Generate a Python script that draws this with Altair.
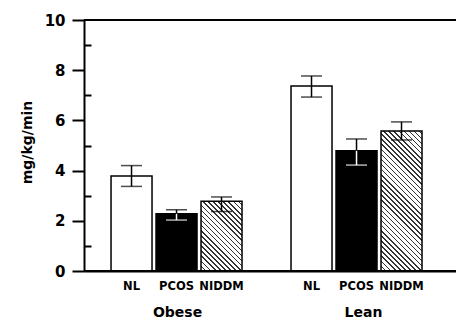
import math
import altair as alt
import pandas as pd

# ---- data ----
groups = ["Obese", "Obese", "Obese", "Lean", "Lean", "Lean"]
subgroups = ["NL", "PCOS", "NIDDM", "NL", "PCOS", "NIDDM"]
means = [3.78, 2.28, 2.78, 7.37, 4.79, 5.58]
err_low = [3.37, 2.03, 2.37, 6.93, 4.22, 5.22]
err_high = [4.20, 2.44, 2.95, 7.77, 5.26, 5.94]
group_order = ["Obese", "Lean"]
sub_order = ["NL", "PCOS", "NIDDM"]
y_major = [0, 2, 4, 6, 8, 10]
y_minor = [1, 3, 5, 7, 9]
y_title = "mg/kg/min"

df = pd.DataFrame({
    "group": groups,
    "sub": subgroups,
    "mean": means,
    "low": err_low,
    "high": err_high,
})
df["key"] = df["group"] + "|" + df["sub"]
key_domain = [f"Obese|{s}" for s in sub_order] + [" "] + [f"Lean|{s}" for s in sub_order]

W, H = 372, 251
FONT = "DejaVu Sans"
P_IN, P_OUT, ALIGN = 0.089, 0.678, 0.443

x_scale = alt.Scale(domain=key_domain, paddingInner=P_IN, paddingOuter=P_OUT, align=ALIGN)
y_scale = alt.Scale(domain=[0, 10], nice=False)

x_axis = alt.Axis(
    title=None, labelAngle=0, ticks=False, domain=True, domainColor="black",
    domainWidth=2, labelPadding=9, labelFont=FONT, labelFontSize=11.5,
    labelFontWeight="bold", labelColor="black",
    labelExpr="indexof(datum.label, '|') >= 0 ? split(datum.label, '|')[1] : ''",
)
X = alt.X("key:N", scale=x_scale, axis=x_axis, sort=key_domain)
y_axis = alt.Axis(
    orient="left", values=y_major, tickSize=12, tickWidth=2, tickColor="black",
    domainColor="black", domainWidth=2, labelPadding=7, labelFont=FONT, labelFontSize=15,
    labelFontWeight="bold", labelColor="black", grid=False, title=y_title,
    titleFont=FONT, titleFontSize=14, titleFontWeight="bold", titleColor="black",
    titleAngle=-90, titleAlign="center", titleBaseline="middle", titleX=-57, titleY=122,
)

base = alt.Chart(df)

plain = base.transform_filter("datum.sub != 'NIDDM'").mark_bar(
    stroke="black", strokeWidth=1.5
).encode(
    x=X,
    y=alt.Y("mean:Q", scale=y_scale, axis=None),
    fill=alt.Fill("sub:N", scale=alt.Scale(domain=["NL", "PCOS"], range=["white", "black"]), legend=None),
)


def hatch_gradient(h, w, period=3.6, lw=1.1, color="#333333"):
    k = (w + h) / (w * w + h * h)
    L = (w + h) / math.sqrt(2)
    half = lw / L / 2
    stops = [alt.GradientStop(offset=0, color="white")]
    i = 1
    while True:
        o = i * period / L
        if o + half >= 1:
            break
        stops += [
            alt.GradientStop(offset=o - half, color="white"),
            alt.GradientStop(offset=o - half, color=color),
            alt.GradientStop(offset=o + half, color=color),
            alt.GradientStop(offset=o + half, color="white"),
        ]
        i += 1
    stops.append(alt.GradientStop(offset=1, color="white"))
    return alt.LinearGradient(gradient="linear", stops=stops, x1=0, y1=1, x2=k * w, y2=1 - k * h)


step = W / (len(key_domain) - P_IN + 2 * P_OUT)
bw = step * (1 - P_IN)
hatched = []
for g, s, m in zip(groups, subgroups, means):
    if s != "NIDDM":
        continue
    hpx = m / 10 * H
    hatched.append(
        base.transform_filter(f"datum.key == '{g}|{s}'").mark_bar(
            stroke="black", strokeWidth=1.5, fill=hatch_gradient(hpx, bw)
        ).encode(x=X, y=alt.Y("mean:Q", scale=y_scale, axis=None))
    )

pcos_white = alt.condition("datum.sub == 'PCOS'", alt.value("white"), alt.value("black"))

err_up = base.mark_rule(strokeWidth=1.5, color="black").encode(
    x=X, y=alt.Y("mean:Q", scale=y_scale, axis=None), y2="high:Q"
)
err_dn = base.mark_rule(strokeWidth=1.5).encode(
    x=X, y=alt.Y("low:Q", scale=y_scale, axis=None), y2="mean:Q", color=pcos_white
)
cap_up = base.mark_tick(size=21, thickness=1.5, color="black").encode(
    x=X, y=alt.Y("high:Q", scale=y_scale, axis=None)
)
cap_dn = base.mark_tick(size=21, thickness=1.5).encode(
    x=X, y=alt.Y("low:Q", scale=y_scale, axis=None), color=pcos_white
)

inner = alt.layer(plain, *hatched, err_up, err_dn, cap_up, cap_dn)

# baseline rule carrying the major y axis
major = alt.Chart(df).mark_rule(color="black", strokeWidth=2).encode(
    y=alt.Y(datum=0, scale=y_scale, axis=y_axis)
)

# top frame line carrying the inward minor ticks
top = alt.Chart(df).mark_rule(color="black", strokeWidth=2).encode(
    y=alt.Y(datum=10, scale=y_scale, axis=alt.Axis(
        orient="left", values=y_minor, tickSize=7, tickWidth=2, tickColor="black",
        offset=-7, labels=False, domain=False, grid=False, title=None))
)

# group labels
grp = alt.Chart(df).mark_point(opacity=0).encode(
    x=alt.X("group:N", sort=group_order,
            scale=alt.Scale(domain=group_order, paddingInner=0.25, paddingOuter=0.158, align=0.5),
            axis=alt.Axis(orient="bottom", title=None, labelAngle=0, ticks=False, domain=False,
                          labelPadding=34, labelFont=FONT, labelFontSize=14,
                          labelFontWeight="bold", labelColor="black")),
    y=alt.Y(datum=0, scale=y_scale, axis=None),
)

chart = alt.layer(inner, major, top, grp).resolve_scale(x="independent").resolve_axis(
    x="independent", y="independent"
).properties(
    width=W, height=H,
    autosize=alt.AutoSizeParams(type="none"),
    padding={"left": 84, "top": 20, "right": 0, "bottom": 49},
).configure_view(stroke=None).configure(background="white")

chart.save("out.html", embed_options={"renderer": "svg", "actions": False})
